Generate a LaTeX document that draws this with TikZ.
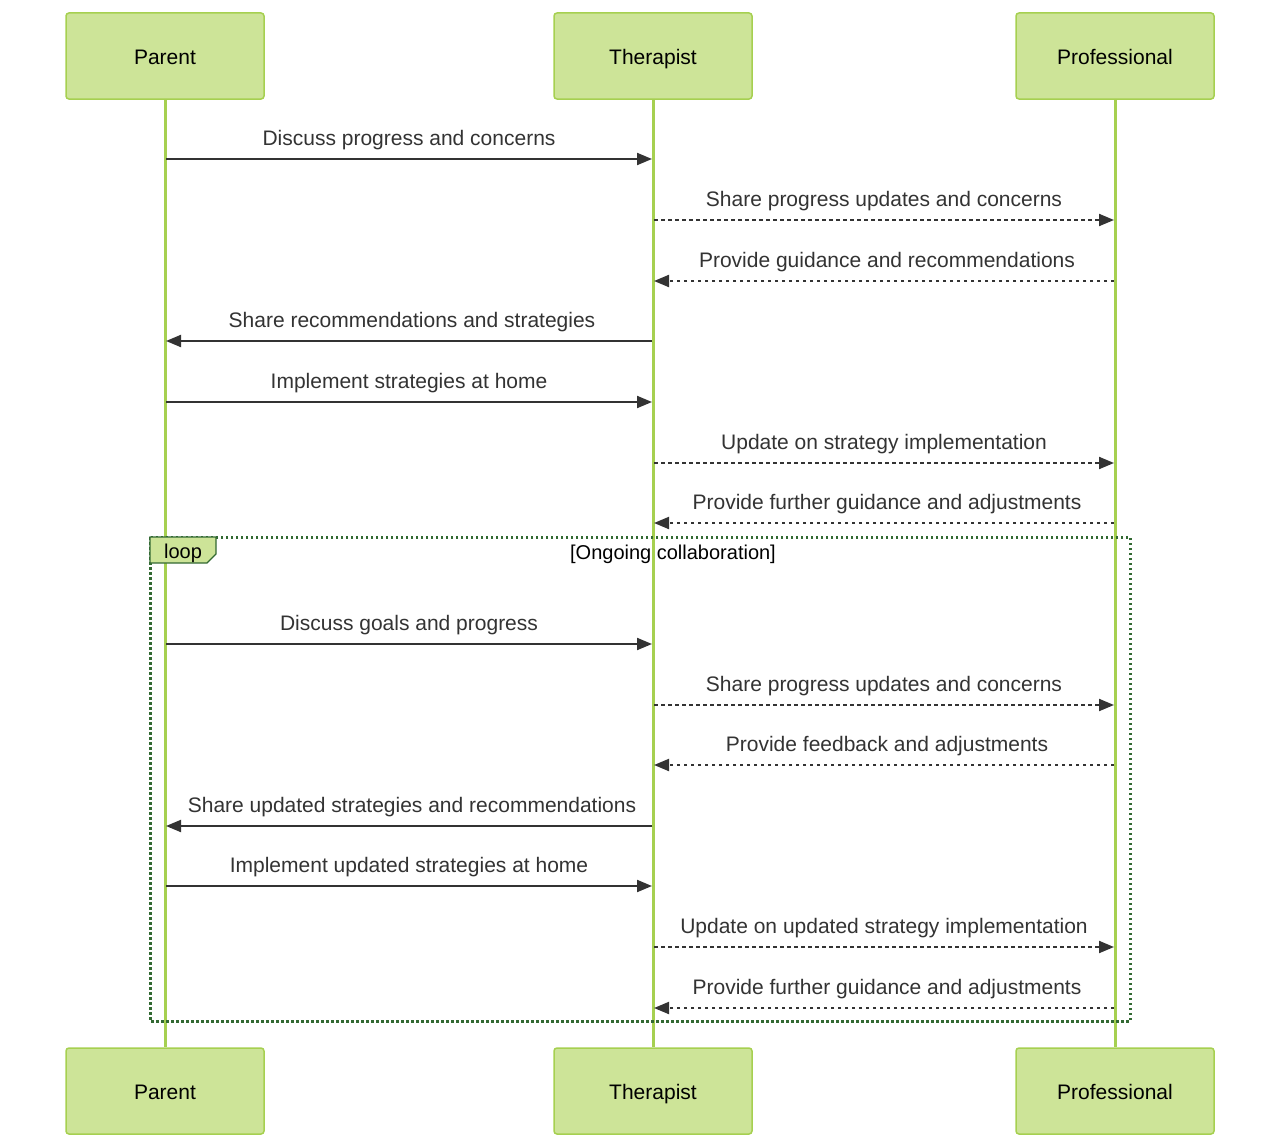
\documentclass[tikz,border=0pt]{standalone}
\usepackage{fontspec}
\setmainfont{Liberation Sans}
\usetikzlibrary{arrows.meta}
\definecolor{actfill}{HTML}{CDE498}
\definecolor{actline}{HTML}{A6D050}
\definecolor{msgcol}{HTML}{333333}
\definecolor{loopcol}{HTML}{326932}
\begin{document}
\begin{tikzpicture}[x=1pt,y=-1pt,
  actor/.style={draw=actline,fill=actfill,line width=1.5pt,rounded corners=3pt,minimum width=198pt,minimum height=86pt,inner sep=0pt,font=\fontsize{21}{25}\selectfont,text=black,text height=16pt,text depth=0pt},
  life/.style={draw=actline,line width=3pt},
  msg/.style={draw=msgcol,line width=2pt,-{Triangle[length=15pt,width=12pt]}},
  dmsg/.style={msg,dash pattern=on 3.5pt off 3.5pt},
  lbl/.style={font=\fontsize{21}{25}\selectfont,text=msgcol,inner sep=0pt}]
\useasboundingbox (0,0) rectangle (1280,1148);
\fill[white] (0,0) rectangle (1280,1148);
% actors
\node[actor] (pt) at (165,56) {Parent};
\node[actor] (tt) at (653,56) {Therapist};
\node[actor] (rt) at (1115,56) {Professional};
\node[actor] (pb) at (165,1091) {Parent};
\node[actor] (tb) at (653,1091) {Therapist};
\node[actor] (rb) at (1115,1091) {Professional};
% lifelines
\draw[life] (pt.south) -- (pb.north);
\draw[life] (tt.south) -- (tb.north);
\draw[life] (rt.south) -- (rb.north);
% loop frame
\draw[loopcol,line width=3pt,dash pattern=on 2.5pt off 2.5pt] (150,537) rectangle (1130,1021);
\draw[loopcol,line width=1.2pt,fill=actfill] (150,537) -- (216,537) -- (216,554) -- (207,563) -- (150,563) -- cycle;
\node[font=\fontsize{20}{24}\selectfont,text=black,inner sep=0pt] (looptag) at (183,553) {loop};
\node[font=\fontsize{20}{24}\selectfont,text=black,inner sep=0pt] (loopcond) at (673,554) {[Ongoing collaboration]};
% messages
\foreach \i/\y in {1/159,2/220,3/281,4/341,5/402,6/463,7/523,8/644,9/705,10/765,11/826,12/886,13/947,14/1008}{
  \coordinate (p\i) at (166,\y);
  \coordinate (t\i) at (652,\y);
  \coordinate (tr\i) at (654,\y);
  \coordinate (r\i) at (1114,\y);
}
\tikzset{lb/.style={lbl,midway,above=8pt}}
\draw[msg] (p1) -- (t1) node[lb] (l1) {Discuss progress and concerns};
\draw[dmsg] (tr2) -- (r2) node[lb] (l2) {Share progress updates and concerns};
\draw[dmsg] (r3) -- (tr3) node[lb,xshift=3pt] (l3) {Provide guidance and recommendations};
\draw[msg] (t4) -- (p4) node[lb,xshift=3pt] (l4) {Share recommendations and strategies};
\draw[msg] (p5) -- (t5) node[lb] (l5) {Implement strategies at home};
\draw[dmsg] (tr6) -- (r6) node[lb] (l6) {Update on strategy implementation};
\draw[dmsg] (r7) -- (tr7) node[lb,xshift=3pt] (l7) {Provide further guidance and adjustments};
\draw[msg] (p8) -- (t8) node[lb] (l8) {Discuss goals and progress};
\draw[dmsg] (tr9) -- (r9) node[lb] (l9) {Share progress updates and concerns};
\draw[dmsg] (r10) -- (tr10) node[lb,xshift=3pt] (l10) {Provide feedback and adjustments};
\draw[msg] (t11) -- (p11) node[lb,xshift=3pt] (l11) {Share updated strategies and recommendations};
\draw[msg] (p12) -- (t12) node[lb] (l12) {Implement updated strategies at home};
\draw[dmsg] (tr13) -- (r13) node[lb] (l13) {Update on updated strategy implementation};
\draw[dmsg] (r14) -- (tr14) node[lb,xshift=3pt] (l14) {Provide further guidance and adjustments};
\end{tikzpicture}
\end{document}
